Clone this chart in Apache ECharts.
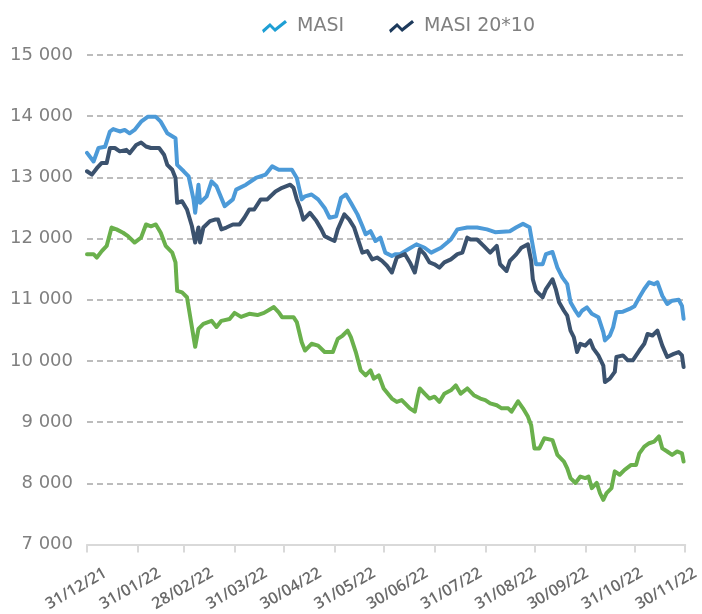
<!DOCTYPE html>
<html>
<head>
<meta charset="utf-8">
<script src="https://cdn.jsdelivr.net/npm/echarts@6/dist/echarts.min.js"></script>
<style>
html,body{margin:0;padding:0;background:#fff;}
#chart{width:702px;height:614px;}
</style>
</head>
<body>
<div id="chart"></div>
<script>
// Days counted from 31/12/2021
const tickDays = [0,31,59,90,120,151,181,212,243,273,304,334,365];
const tickLabels = ['31/12/21','31/01/22','28/02/22','31/03/22','30/04/22','31/05/22','30/06/22','31/07/22','31/08/22','30/09/22','31/10/22','30/11/22'];

const masiDays = [0,4,7,11,14,16,20,23,26,29,33,37,42,45,49,54,55,59,62,65,66,68,69,73,76,79,84,89,91,97,103,109,113,117,125,128,131,133,137,141,145,148,152,155,158,161,165,168,170,173,176,179,182,186,188,191,196,201,206,210,216,222,226,232,238,244,249,258,262,266,270,272,274,278,280,284,287,290,293,295,298,300,302,305,308,312,315,316,319,321,323,327,331,334,337,340,343,346,348,351,354,357,361,363,364];
const masiValues = [13400,13260,13480,13500,13750,13790,13750,13775,13720,13775,13910,13990,13990,13910,13720,13640,13205,13100,13015,12640,12420,12880,12585,12690,12935,12855,12530,12640,12800,12880,12990,13045,13180,13125,13125,12990,12640,12690,12720,12640,12500,12340,12365,12665,12720,12585,12395,12205,12070,12120,11960,12015,11770,11715,11745,11745,11825,11905,11850,11770,11850,11985,12150,12180,12180,12150,12105,12120,12185,12240,12185,11880,11580,11580,11745,11780,11525,11365,11255,10960,10820,10740,10820,10875,10770,10715,10470,10335,10415,10550,10795,10805,10850,10895,11040,11175,11285,11255,11285,11065,10930,10985,11000,10900,10690];

const m2010Days = [0,3,6,9,12,14,17,20,24,26,30,33,36,39,44,47,49,52,54,55,58,61,64,66,68,69,71,75,78,80,82,85,89,93,96,99,102,106,110,115,119,124,126,128,130,132,136,140,143,145,149,151,153,157,160,163,166,168,171,174,177,180,183,186,189,194,197,200,203,206,209,212,215,218,222,226,229,232,234,238,242,246,250,252,256,258,262,265,269,271,272,274,278,280,284,286,288,291,293,295,297,299,301,304,307,309,312,315,316,319,322,323,327,330,333,337,340,342,345,348,351,354,358,361,363,364];
const m2010Values = [13100,13045,13150,13235,13235,13480,13480,13425,13450,13395,13530,13570,13505,13480,13480,13370,13205,13125,12990,12585,12610,12475,12205,11935,12180,11935,12180,12285,12310,12310,12150,12180,12230,12230,12340,12475,12475,12640,12640,12770,12830,12880,12830,12640,12500,12310,12420,12285,12150,12040,11985,11960,12150,12395,12310,12180,11935,11770,11795,11660,11690,11635,11555,11445,11690,11745,11610,11445,11825,11745,11610,11580,11525,11610,11660,11745,11770,12015,11985,11985,11880,11770,11880,11580,11470,11635,11745,11850,11905,11635,11335,11145,11040,11175,11335,11175,10960,10820,10740,10495,10390,10145,10280,10250,10335,10200,10090,9925,9655,9710,9820,10065,10090,10010,10010,10170,10280,10440,10415,10495,10250,10065,10115,10145,10090,9900];

const greenDays = [0,4,6,9,12,15,18,22,25,29,33,36,39,42,45,48,52,54,55,58,61,66,68,71,76,79,82,87,90,94,99,104,108,112,114,117,119,126,128,131,133,137,141,145,150,153,156,159,161,164,167,170,173,175,178,181,186,189,192,194,197,200,202,203,206,209,212,215,218,222,225,228,232,236,240,243,246,250,253,257,259,263,266,269,271,273,276,279,284,287,291,293,295,298,301,304,306,308,311,313,315,317,320,322,325,328,332,335,337,340,343,346,349,351,354,357,360,363,364];
const greenValues = [11745,11745,11690,11795,11880,12180,12150,12095,12040,11935,12015,12230,12200,12230,12095,11880,11770,11610,11145,11120,11040,10230,10525,10605,10655,10555,10655,10685,10785,10720,10770,10750,10785,10850,10880,10795,10715,10715,10635,10305,10170,10280,10250,10145,10145,10360,10415,10495,10390,10145,9845,9765,9845,9710,9765,9550,9385,9330,9360,9305,9225,9170,9440,9550,9465,9385,9415,9330,9465,9520,9600,9465,9550,9440,9385,9360,9305,9275,9225,9225,9170,9340,9225,9090,8950,8570,8570,8735,8705,8465,8355,8245,8085,8005,8110,8085,8110,7920,8005,7840,7730,7840,7920,8195,8140,8220,8300,8300,8490,8600,8655,8680,8765,8570,8520,8465,8520,8490,8355];

function pairs(xs, ys){ const n=Math.min(xs.length, ys.length); const out=[]; for(let i=0;i<n;i++) out.push([xs[i], ys[i]]); return out; }
function fmtThousands(v){ return String(v).replace(/\B(?=(\d{3})+(?!\d))/g, ' '); }

// label anchors: evenly spread as in the reference layout
const LABEL_STEP = 32.7;
const labelAnchors = tickLabels.map((_, i) => Math.round(i * LABEL_STEP));

const zig = 'path://M0,10 L8,3 L13,8 L23,0 L25,2.5 L13,12 L8,7 L1.5,13 Z';

const chart = echarts.init(document.getElementById('chart'), null, {renderer:'canvas'});
chart.setOption({
  animation:false,
  backgroundColor:'#ffffff',
  grid:{left:87, right:12, top:55, bottom:67, containLabel:false},
  legend:{
    left:257, top:12, itemWidth:25, itemHeight:14, itemGap:45,
    textStyle:{fontFamily:'DejaVu Sans', fontSize:19, color:'#808080', padding:[0,0,0,5]},
    data:[
      {name:'MASI', icon:zig, itemStyle:{color:'#1e9fd4'}},
      {name:'MASI 20*10', icon:zig, itemStyle:{color:'#1d3a5c'}}
    ]
  },
  xAxis:{
    type:'value', min:0, max:365,
    axisLine:{show:true, lineStyle:{color:'#d9d9d9', width:2}},
    axisTick:{show:true, customValues:tickDays, length:8, lineStyle:{color:'#d9d9d9', width:2}},
    axisLabel:{
      customValues:labelAnchors,
      formatter:function(v){ const i=labelAnchors.indexOf(Math.round(v)); return i>=0 ? tickLabels[i] : ''; },
      rotate:30, align:'center', verticalAlign:'middle', margin:38, padding:[0,25,0,0],
      hideOverlap:false,
      fontFamily:'Open Sans', fontWeight:600, fontSize:16, color:'#6a6a6a'
    },
    splitLine:{show:false}
  },
  yAxis:{
    type:'value', min:7000, max:15000, interval:1000,
    axisLine:{show:false}, axisTick:{show:false},
    axisLabel:{margin:14, fontFamily:'DejaVu Sans', fontSize:18, color:'#808080', formatter:fmtThousands},
    splitLine:{show:true, showMinLine:false, lineStyle:{color:'#a6a6a6', width:1.5, type:[6,4]}}
  },
  series:[
    {name:'MASI', type:'line', data:pairs(masiDays, masiValues), showSymbol:false, symbol:'none',
     lineStyle:{color:'#4c9ad8', width:4, cap:'round', join:'round'}, itemStyle:{color:'#4c9ad8'}},
    {name:'MASI 20*10', type:'line', data:pairs(m2010Days, m2010Values), showSymbol:false, symbol:'none',
     lineStyle:{color:'#3b526e', width:4, cap:'round', join:'round'}, itemStyle:{color:'#3b526e'}},
    {name:'Série 3', type:'line', data:pairs(greenDays, greenValues), showSymbol:false, symbol:'none',
     lineStyle:{color:'#6ab04c', width:4, cap:'round', join:'round'}, itemStyle:{color:'#6ab04c'}}
  ]
});
</script>
</body>
</html>
